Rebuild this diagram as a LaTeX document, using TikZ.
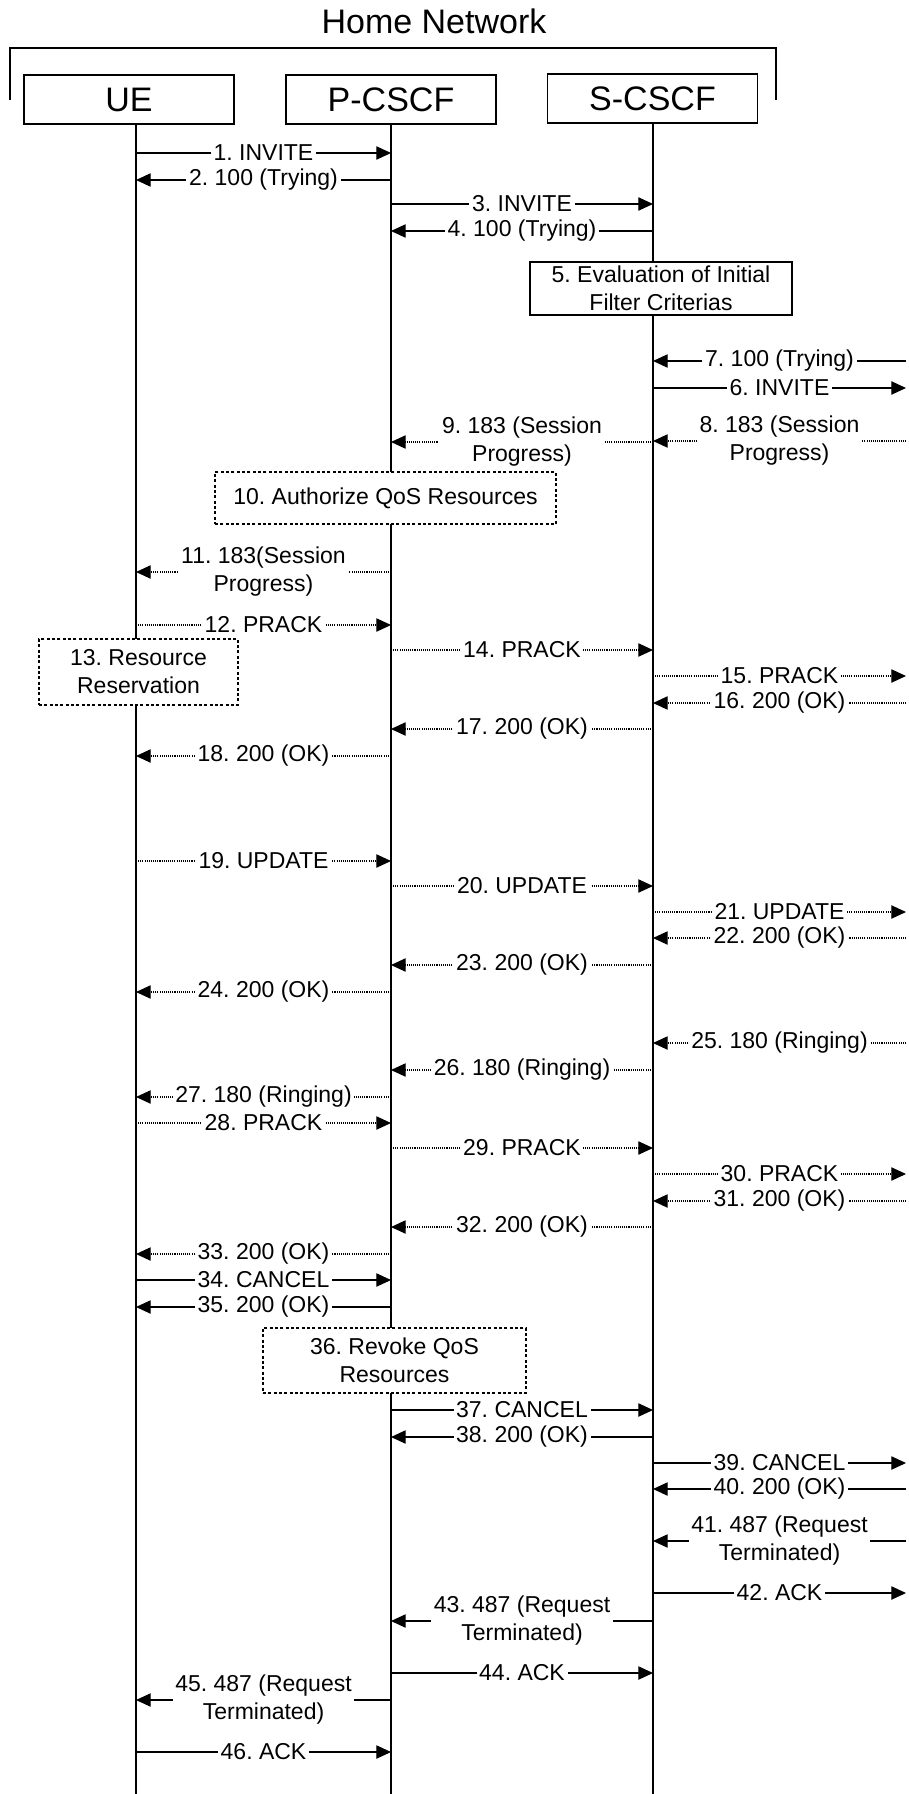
\documentclass[tikz,border=0pt]{standalone}
\usepackage{fontspec}
\setmainfont{Liberation Sans}
\usetikzlibrary{arrows.meta}
\frenchspacing
\newcommand\sigline[5]{\draw[#1] (#2 |- 0,#4) -- (#3 |- 0,#4) node[lbl,midway]{#5};}
\begin{document}
\begin{tikzpicture}[x=0.75pt,y=-0.75pt,
  headbox/.style={draw, line width=1pt, minimum width=157.5pt, minimum height=36.75pt, inner sep=0pt, font=\fontsize{25.5}{30}\selectfont},
  life/.style={line width=1.1pt},
  tip/.style={-{Triangle[length=11pt,width=10pt]}},
  msgsolid/.style={line width=0.8pt, tip},
  msgdot/.style={line width=0.8pt, dash pattern=on 0.8pt off 0.8pt, tip},
  lbl/.style={fill=white, inner xsep=2pt, inner ysep=1pt, align=center, font=\fontsize{17.25}{21}\selectfont},
  procbox/.style={draw, fill=white, line width=1pt, align=center, inner sep=0pt, font=\fontsize{17.25}{21}\selectfont},
  dotbox/.style={procbox, line width=1.4pt, dash pattern=on 2.2pt off 1.8pt}
]
\useasboundingbox (0,0) rectangle (908,1794);
% title and bracket
\node[font=\fontsize{25.5}{30}\selectfont] (title) at (434,21) {Home Network};
\draw[line width=1.2pt] (10,100) -- (10,48) -- (776,48) -- (776,100);
% heads
\node[headbox] (U) at (129,99.5) {UE};
\node[headbox] (P) at (391,99.5) {P-CSCF};
\node[headbox] (S) at (652.5,98.5) {S-CSCF};
\coordinate (UL) at (136,124);
\coordinate (PL) at (391,124);
\coordinate (SL) at (653,123);
\coordinate (EL) at (906,123);
\coordinate (UB) at (136,1794);
\coordinate (PB) at (391,1794);
\coordinate (SB) at (653,1794);
\draw[life] (UL) -- (UB);
\draw[life] (PL) -- (PB);
\draw[life] (SL) -- (SB);
% process boxes
\node[procbox, minimum width=196.5pt, minimum height=39.75pt] (b5) at (661,288.5) {5. Evaluation of Initial\\Filter Criterias};
\node[dotbox, minimum width=255.75pt, minimum height=39pt] (b10) at (385.5,498) {10. Authorize QoS Resources};
\node[dotbox, minimum width=149.25pt, minimum height=49.5pt] (b13) at (138.5,672) {13. Resource\\Reservation};
\node[dotbox, minimum width=197.25pt, minimum height=48.75pt] (b36) at (394.5,1360.5) {36. Revoke QoS\\Resources};
% messages
\sigline{msgsolid}{UL}{PL}{153}{1. INVITE}
\sigline{msgsolid}{PL}{UL}{180}{2. 100 (Trying)}
\sigline{msgsolid}{PL}{SL}{204}{3. INVITE}
\sigline{msgsolid}{SL}{PL}{231}{4. 100 (Trying)}
\sigline{msgsolid}{EL}{SL}{361}{7. 100 (Trying)}
\sigline{msgsolid}{SL}{EL}{388}{6. INVITE}
\sigline{msgdot}{SL}{PL}{442}{9. 183 (Session\\Progress)}
\sigline{msgdot}{EL}{SL}{441}{8. 183 (Session\\Progress)}
\sigline{msgdot}{PL}{UL}{572}{11. 183(Session\\Progress)}
\sigline{msgdot}{UL}{PL}{625}{12. PRACK}
\sigline{msgdot}{PL}{SL}{650}{14. PRACK}
\sigline{msgdot}{SL}{EL}{676}{15. PRACK}
\sigline{msgdot}{EL}{SL}{703}{16. 200 (OK)}
\sigline{msgdot}{SL}{PL}{729}{17. 200 (OK)}
\sigline{msgdot}{PL}{UL}{756}{18. 200 (OK)}
\sigline{msgdot}{UL}{PL}{861}{19. UPDATE}
\sigline{msgdot}{PL}{SL}{886}{20. UPDATE}
\sigline{msgdot}{SL}{EL}{912}{21. UPDATE}
\sigline{msgdot}{EL}{SL}{938}{22. 200 (OK)}
\sigline{msgdot}{SL}{PL}{965}{23. 200 (OK)}
\sigline{msgdot}{PL}{UL}{992}{24. 200 (OK)}
\sigline{msgdot}{EL}{SL}{1043}{25. 180 (Ringing)}
\sigline{msgdot}{SL}{PL}{1070}{26. 180 (Ringing)}
\sigline{msgdot}{PL}{UL}{1097}{27. 180 (Ringing)}
\sigline{msgdot}{UL}{PL}{1123}{28. PRACK}
\sigline{msgdot}{PL}{SL}{1148}{29. PRACK}
\sigline{msgdot}{SL}{EL}{1174}{30. PRACK}
\sigline{msgdot}{EL}{SL}{1201}{31. 200 (OK)}
\sigline{msgdot}{SL}{PL}{1227}{32. 200 (OK)}
\sigline{msgdot}{PL}{UL}{1254}{33. 200 (OK)}
\sigline{msgsolid}{UL}{PL}{1280}{34. CANCEL}
\sigline{msgsolid}{PL}{UL}{1307}{35. 200 (OK)}
\sigline{msgsolid}{PL}{SL}{1410}{37. CANCEL}
\sigline{msgsolid}{SL}{PL}{1437}{38. 200 (OK)}
\sigline{msgsolid}{SL}{EL}{1463}{39. CANCEL}
\sigline{msgsolid}{EL}{SL}{1489}{40. 200 (OK)}
\sigline{msgsolid}{EL}{SL}{1541}{41. 487 (Request\\Terminated)}
\sigline{msgsolid}{SL}{EL}{1593}{42. ACK}
\sigline{msgsolid}{SL}{PL}{1621}{43. 487 (Request\\Terminated)}
\sigline{msgsolid}{PL}{SL}{1673}{44. ACK}
\sigline{msgsolid}{PL}{UL}{1700}{45. 487 (Request\\Terminated)}
\sigline{msgsolid}{UL}{PL}{1752}{46. ACK}
\end{tikzpicture}
\end{document}
